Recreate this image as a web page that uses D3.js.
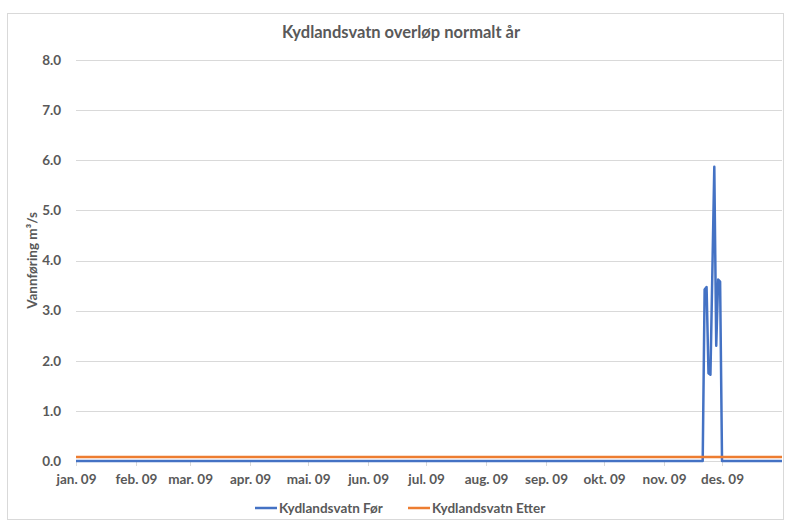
<!DOCTYPE html>
<html>
<head>
<meta charset="utf-8">
<script src="https://cdn.jsdelivr.net/npm/d3@7/dist/d3.min.js"></script>
<style>
  html, body { margin: 0; padding: 0; background: #fff; }
  svg text { font-family: Lato, "Open Sans", sans-serif; font-weight: bold; fill: #595959; }
</style>
</head>
<body>
<svg id="chart" width="785" height="527"></svg>
<script>
// Overflow at Kydlandsvatn, daily values (m³/s)
const forDates  = ["2009-01-01","2009-11-21","2009-11-22","2009-11-23","2009-11-24","2009-11-25",
                   "2009-11-26","2009-11-27","2009-11-28","2009-11-29","2009-11-30","2009-12-01","2009-12-31"];
const forValues = [0, 0, 3.42, 3.47, 1.75, 1.72, 3.78, 5.87, 2.30, 3.62, 3.58, 0, 0];

const etterDates  = ["2009-01-01","2009-12-31"];
const etterValues = [0.08, 0.08];

const monthTicks = ["2009-01-01","2009-02-01","2009-03-01","2009-04-01","2009-05-01","2009-06-01",
                    "2009-07-01","2009-08-01","2009-09-01","2009-10-01","2009-11-01","2009-12-01"];
const monthLabels = ["jan. 09","feb. 09","mar. 09","apr. 09","mai. 09","jun. 09",
                     "jul. 09","aug. 09","sep. 09","okt. 09","nov. 09","des. 09"];
const yTicks = [0,1,2,3,4,5,6,7,8];

const seriesNames = ["Kydlandsvatn Før","Kydlandsvatn Etter"];
const seriesColors = ["#4472C4","#ED7D31"];
const title = "Kydlandsvatn overløp normalt år";
const yTitle = "Vannføring m³/s";

const parse = d3.utcParse("%Y-%m-%d");
const svg = d3.select("#chart");

// chart frame
svg.append("rect").attr("x", 7.5).attr("y", 13.5).attr("width", 776).attr("height", 506)
  .attr("fill", "#fff").attr("stroke", "#d9d9d9").attr("stroke-width", 1);

const x = d3.scaleUtc().domain([parse("2009-01-01"), parse("2010-01-01")]).range([76, 782]);
const y = d3.scaleLinear().domain([0, 8]).range([461, 60]);

// horizontal gridlines + y labels
const yAxis = d3.axisLeft(y).tickValues(yTicks).tickFormat(d3.format(".1f"))
  .tickSize(-(782 - 76)).tickPadding(15);
const gy = svg.append("g").attr("transform", "translate(76,0)").call(yAxis);
gy.select(".domain").remove();
gy.selectAll(".tick line").attr("stroke", "#d9d9d9").attr("stroke-width", 1)
  .attr("shape-rendering", "crispEdges");
gy.selectAll(".tick text").attr("font-size", 13.5).attr("fill", "#595959")
  .style("font-family", "Lato, sans-serif").style("font-weight", "bold");

// x axis with month ticks
const xAxis = d3.axisBottom(x).tickValues(monthTicks.map(parse))
  .tickFormat((d, i) => monthLabels[i]).tickSize(5).tickPadding(8);
const gx = svg.append("g").attr("transform", "translate(0,461)").call(xAxis);
gx.select(".domain").attr("stroke", "#d9d9d9").attr("d", "M76,0.5H782")
  .attr("shape-rendering", "crispEdges");
gx.selectAll(".tick line").attr("stroke", "#d9d9d9").attr("shape-rendering", "crispEdges");
gx.selectAll(".tick text").attr("font-size", 13.5).attr("fill", "#595959")
  .style("font-family", "Lato, sans-serif").style("font-weight", "bold");

// series lines
const line = d3.line().x(d => x(d.date)).y(d => y(d.value));
const forData = forDates.map((d, i) => ({ date: parse(d), value: forValues[i] }));
const etterData = etterDates.map((d, i) => ({ date: parse(d), value: etterValues[i] }));
// extend the last daily value to the end of the last day
forData.push({ date: parse("2010-01-01"), value: forValues[forValues.length - 1] });
etterData.push({ date: parse("2010-01-01"), value: etterValues[etterValues.length - 1] });

svg.append("path").datum(forData).attr("d", line).attr("fill", "none")
  .attr("stroke", seriesColors[0]).attr("stroke-width", 2.5).attr("stroke-linejoin", "round");
svg.append("path").datum(etterData).attr("d", line).attr("fill", "none")
  .attr("stroke", seriesColors[1]).attr("stroke-width", 2.5);

// title
svg.append("text").attr("x", 401).attr("y", 38).attr("text-anchor", "middle")
  .attr("font-size", 16.5).text(title);

// y axis title
svg.append("text").attr("transform", "translate(37,260.5) rotate(-90)")
  .attr("text-anchor", "middle").attr("font-size", 13.5).text(yTitle);

// legend
const legendX = [255, 408];
seriesNames.forEach((name, i) => {
  const g = svg.append("g").attr("transform", `translate(${legendX[i]},508)`);
  g.append("line").attr("x1", 0).attr("x2", 22).attr("y1", 0).attr("y2", 0)
    .attr("stroke", seriesColors[i]).attr("stroke-width", 2.5);
  g.append("text").attr("x", 24).attr("y", 5).attr("font-size", 13.5).text(name);
});
</script>
</body>
</html>
